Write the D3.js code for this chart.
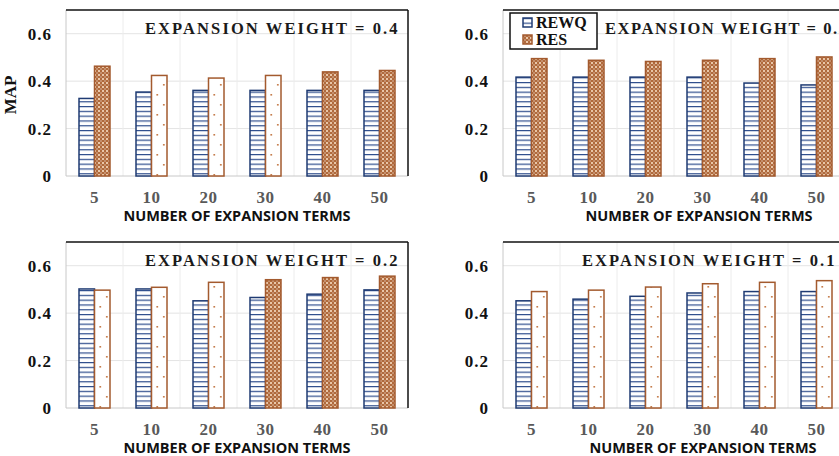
<!DOCTYPE html>
<html>
<head>
<meta charset="utf-8">
<script src="https://cdn.jsdelivr.net/npm/d3@7"></script>
<style>
  body { margin: 0; background: #fff; }
  svg { display: block; }
</style>
</head>
<body>
<div id="chart"></div>
<script>
// MAP of REWQ vs RES for different expansion weights

const terms = ["5", "10", "20", "30", "40", "50"];
const yTicks = [0, 0.2, 0.4, 0.6];

const rewq04 = [0.327, 0.354, 0.361, 0.361, 0.361, 0.361];
const res04  = [0.463, 0.424, 0.413, 0.424, 0.439, 0.445];
const rewq03 = [0.417, 0.417, 0.417, 0.417, 0.392, 0.384];
const res03  = [0.495, 0.488, 0.483, 0.488, 0.495, 0.502];
const rewq02 = [0.502, 0.502, 0.452, 0.466, 0.480, 0.498];
const res02  = [0.497, 0.509, 0.530, 0.541, 0.550, 0.556];
const rewq01 = [0.452, 0.459, 0.471, 0.485, 0.491, 0.491];
const res01  = [0.491, 0.497, 0.510, 0.524, 0.530, 0.537];

// which RES bars use the dense fill (the rest are the sparse dotted fill)
const dense04 = [1, 0, 0, 0, 1, 1];
const dense03 = [1, 1, 1, 1, 1, 1];
const dense02 = [0, 0, 0, 1, 1, 1];
const dense01 = [0, 0, 0, 0, 0, 0];

const width = 839;
const height = 456;
const plotW = 342;
const plotH = 166;

const panels = [
  { weight: "0.4", rewq: rewq04, res: res04, dense: dense04, left: 66,  top: 10,  titleX: 79,  spacing: 2.1, axisX: 171, mapLabel: true },
  { weight: "0.3", rewq: rewq03, res: res03, dense: dense03, left: 503, top: 10,  titleX: 102, spacing: 1.6, axisX: 196, legend: true },
  { weight: "0.2", rewq: rewq02, res: res02, dense: dense02, left: 66,  top: 242, titleX: 79,  spacing: 2.1, axisX: 171 },
  { weight: "0.1", rewq: rewq01, res: res01, dense: dense01, left: 503, top: 242, titleX: 79,  spacing: 2.1, axisX: 200 }
];

const blue = "#1f3b73";
const brown = "#a35a2e";
const serif = "'Liberation Serif', 'Times New Roman', serif";

const svg = d3.select("#chart")
  .append("svg")
  .attr("width", width)
  .attr("height", height);

// Fill patterns
const defs = svg.append("defs");

const hl = defs.append("pattern")
  .attr("id", "hlines")
  .attr("patternUnits", "userSpaceOnUse")
  .attr("width", 6)
  .attr("height", 4.8);
hl.append("rect").attr("width", 6).attr("height", 4.8).attr("fill", "#fff");
hl.append("rect").attr("y", 0).attr("width", 6).attr("height", 1.2).attr("fill", "#2e4d8c");

const dn = defs.append("pattern")
  .attr("id", "dense")
  .attr("patternUnits", "userSpaceOnUse")
  .attr("width", 4)
  .attr("height", 4);
dn.append("rect").attr("width", 4).attr("height", 4).attr("fill", "#b06a3c");
dn.append("rect").attr("width", 2).attr("height", 2).attr("fill", "#e9c6a8");
dn.append("rect").attr("x", 2.5).attr("y", 2.5).attr("width", 1).attr("height", 1).attr("fill", "#fff");

const sp = defs.append("pattern")
  .attr("id", "sparse")
  .attr("patternUnits", "userSpaceOnUse")
  .attr("width", 14.25)
  .attr("height", 20);
sp.append("rect").attr("width", 14.25).attr("height", 20).attr("fill", "#fff");
sp.append("rect").attr("x", 5).attr("y", 4).attr("width", 1.6).attr("height", 1.6).attr("fill", "#c0703a");
sp.append("rect").attr("x", 11.5).attr("y", 14).attr("width", 1.6).attr("height", 1.6).attr("fill", "#c0703a");

const x = d3.scaleBand().domain(terms).range([0, plotW]);
const y = d3.scaleLinear().domain([0, 0.7]).range([plotH, 0]);
const barW = 15.5;
const pad = (x.bandwidth() - 2 * barW) / 2;

panels.forEach(p => {
  const g = svg.append("g").attr("transform", `translate(${p.left},${p.top})`);

  // grid
  g.append("g")
    .selectAll("line.h")
    .data(yTicks.filter(t => t > 0))
    .join("line")
    .attr("x1", 0).attr("x2", plotW)
    .attr("y1", d => y(d)).attr("y2", d => y(d))
    .attr("stroke", "#e4e4e4");

  g.append("g")
    .selectAll("line.v")
    .data(terms.slice(1))
    .join("line")
    .attr("x1", d => x(d)).attr("x2", d => x(d))
    .attr("y1", 0).attr("y2", plotH)
    .attr("stroke", "#ececec");

  // frame: top and right dark, left and bottom grey
  g.append("line").attr("x1", 0).attr("x2", 0).attr("y1", 0).attr("y2", plotH).attr("stroke", "#c8c8c8");
  g.append("line").attr("x1", 0).attr("x2", plotW).attr("y1", y(0)).attr("y2", y(0)).attr("stroke", "#c8c8c8");
  g.append("line").attr("x1", 0).attr("x2", plotW).attr("y1", 0).attr("y2", 0).attr("stroke", "#111").attr("stroke-width", 1.5);
  g.append("line").attr("x1", plotW).attr("x2", plotW).attr("y1", 0).attr("y2", plotH).attr("stroke", "#111").attr("stroke-width", 1.5);

  // bars
  g.append("g")
    .selectAll("rect")
    .data(terms.map((t, i) => ({ t, v: p.rewq[i] })))
    .join("rect")
    .attr("x", d => x(d.t) + pad)
    .attr("y", d => y(d.v))
    .attr("width", barW)
    .attr("height", d => y(0) - y(d.v))
    .attr("fill", "url(#hlines)")
    .attr("stroke", blue)
    .attr("stroke-width", 1.5);

  g.append("g")
    .selectAll("rect")
    .data(terms.map((t, i) => ({ t, v: p.res[i], dense: p.dense[i] })))
    .join("rect")
    .attr("x", d => x(d.t) + pad + barW)
    .attr("y", d => y(d.v))
    .attr("width", barW)
    .attr("height", d => y(0) - y(d.v))
    .attr("fill", d => d.dense ? "url(#dense)" : "url(#sparse)")
    .attr("stroke", brown)
    .attr("stroke-width", 1.5);

  // axes
  const yAxis = g.append("g")
    .call(d3.axisLeft(y).tickValues(yTicks).tickSize(0).tickPadding(14)
      .tickFormat(d => d === 0 ? "0" : d.toFixed(1)));
  yAxis.select(".domain").remove();
  yAxis.selectAll("text")
    .style("font-family", serif)
    .style("font-weight", "bold")
    .style("font-size", "17px")
    .style("letter-spacing", "1px")
    .attr("fill", "#111");

  const xAxis = g.append("g")
    .attr("transform", `translate(0,${plotH})`)
    .call(d3.axisBottom(x).tickSize(0).tickPadding(15));
  xAxis.select(".domain").remove();
  xAxis.selectAll("text")
    .style("font-family", serif)
    .style("font-weight", "bold")
    .style("font-size", "17px")
    .style("letter-spacing", "0.5px")
    .attr("fill", "#595959");

  g.append("text")
    .attr("x", p.axisX)
    .attr("y", plotH + 45)
    .attr("text-anchor", "middle")
    .style("font-family", "'Open Sans', sans-serif")
    .style("font-weight", "bold")
    .style("font-size", "14.5px")
    .attr("fill", "#111")
    .text("NUMBER OF EXPANSION TERMS");

  // panel title
  g.append("text")
    .attr("x", p.titleX)
    .attr("y", 24)
    .style("font-family", serif)
    .style("font-weight", "bold")
    .style("font-size", "16.5px")
    .style("letter-spacing", `${p.spacing}px`)
    .attr("fill", "#1a1a1a")
    .text(`EXPANSION WEIGHT = ${p.weight}`);

  if (p.mapLabel) {
    g.append("text")
      .attr("transform", `translate(${-50},${85}) rotate(-90)`)
      .attr("text-anchor", "middle")
      .style("font-family", serif)
      .style("font-weight", "bold")
      .style("font-size", "17px")
      .attr("fill", "#111")
      .text("MAP");
  }

  if (p.legend) {
    const lg = g.append("g").attr("transform", "translate(7,3)");
    lg.append("rect")
      .attr("width", 87).attr("height", 36)
      .attr("fill", "#fff")
      .attr("stroke", "#111")
      .attr("stroke-width", 1.5);
    const items = [
      { label: "REWQ", fill: "url(#hlines)", stroke: blue },
      { label: "RES", fill: "url(#dense)", stroke: brown }
    ];
    items.forEach((it, i) => {
      lg.append("rect")
        .attr("x", 13).attr("y", 5 + i * 17)
        .attr("width", 9).attr("height", 9)
        .attr("fill", it.fill)
        .attr("stroke", it.stroke)
        .attr("stroke-width", 1.5);
      lg.append("text")
        .attr("x", 26).attr("y", 14.5 + i * 17)
        .style("font-family", serif)
        .style("font-weight", "bold")
        .style("font-size", "16px")
        .attr("fill", "#111")
        .text(it.label);
    });
  }
});
</script>
</body>
</html>
